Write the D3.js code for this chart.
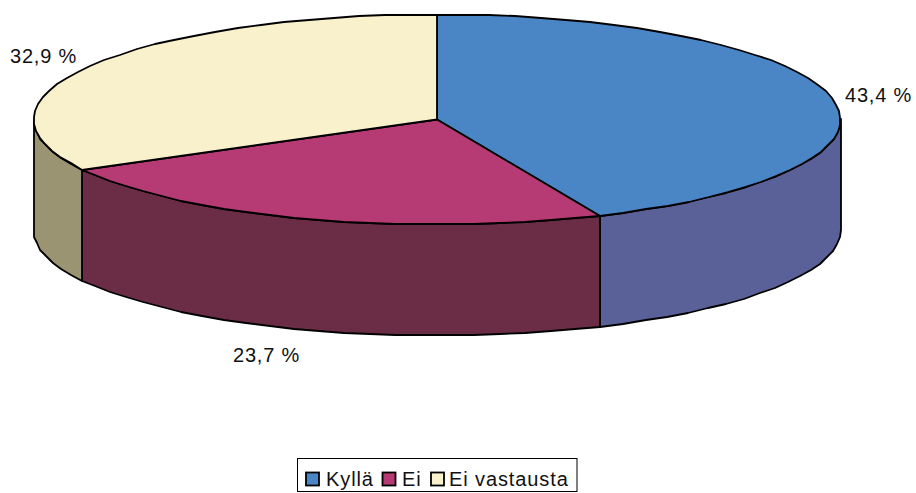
<!DOCTYPE html>
<html><head><meta charset="utf-8">
<script src="https://cdn.jsdelivr.net/npm/d3@7"></script>
<style>html,body{margin:0;padding:0;background:#fff}svg{display:block}text{font-family:"Liberation Sans",Arial,sans-serif;fill:#111}</style>
</head><body><svg id="c" width="916" height="493"></svg>
<script>
const categories = ["Kyllä","Ei","Ei vastausta"];
const values = [43.4,23.7,32.9];
const valueLabels = ["43,4 %","23,7 %","32,9 %"];
const topColors = ["#4A86C5","#B63A73","#F9F0CC"];
const sideColors = ["#5A6098","#6A2D45","#9B9472"];
const labelPos = [[845,102],[233,362],[10,63]];
const legendX = [[306,326],[382.5,402],[431,449]];

const svg = d3.select("#c");
const cx=437, cy=119.5, rx=403.5, ry=105, depth=111;
const x = d3.scaleLinear().domain([-1,1]).range([cx-rx,cx+rx]);
const y = d3.scaleLinear().domain([-1,1]).range([cy-ry,cy+ry]);
const arcs = d3.pie().sort(null)(values);
const stepAngle = Math.PI/48;
const px = a=>Math.round(x(Math.sin(a)));
const py = (a,d=0)=>Math.round(y(-Math.cos(a)))+d;
function samples(a0,a1){
  const n=Math.max(1,Math.ceil((a1-a0)/stepAngle));
  return d3.range(n+1).map(i=>a0+(a1-a0)*i/n);
}
const line=d3.line();
arcs.forEach((d,i)=>{
  const a0=Math.max(d.startAngle,Math.PI/2), a1=Math.min(d.endAngle,Math.PI*1.5);
  if(a1<=a0) return;
  const s=samples(a0,a1);
  const pts=s.map(a=>[px(a),py(a)]).concat(s.slice().reverse().map(a=>[px(a),py(a,depth)]));
  svg.append("path").attr("d",line(pts)+"Z").attr("fill",sideColors[i]).attr("stroke","#000").attr("stroke-width",1.8).attr("stroke-linejoin","round");
});
arcs.forEach((d,i)=>{
  const pts=[[cx,cy]].concat(samples(d.startAngle,d.endAngle).map(a=>[px(a),py(a)]));
  svg.append("path").attr("d",line(pts)+"Z").attr("fill",topColors[i]).attr("stroke","#000").attr("stroke-width",1.8).attr("stroke-linejoin","round");
});
valueLabels.forEach((t,i)=>{
  svg.append("text").attr("x",labelPos[i][0]).attr("y",labelPos[i][1]).attr("font-size",20).attr("letter-spacing",0.8).text(t);
});
svg.append("rect").attr("x",297.5).attr("y",458.5).attr("width",279.5).attr("height",33).attr("fill","#fff").attr("stroke","#000").attr("stroke-width",1);
categories.forEach((c,i)=>{
  svg.append("rect").attr("x",legendX[i][0]).attr("y",472.5).attr("width",13).attr("height",13).attr("fill",topColors[i]).attr("stroke","#000").attr("stroke-width",1.8);
  svg.append("text").attr("x",legendX[i][1]).attr("y",486).attr("font-size",20).attr("letter-spacing",0.9).text(c);
});
</script></body></html>
